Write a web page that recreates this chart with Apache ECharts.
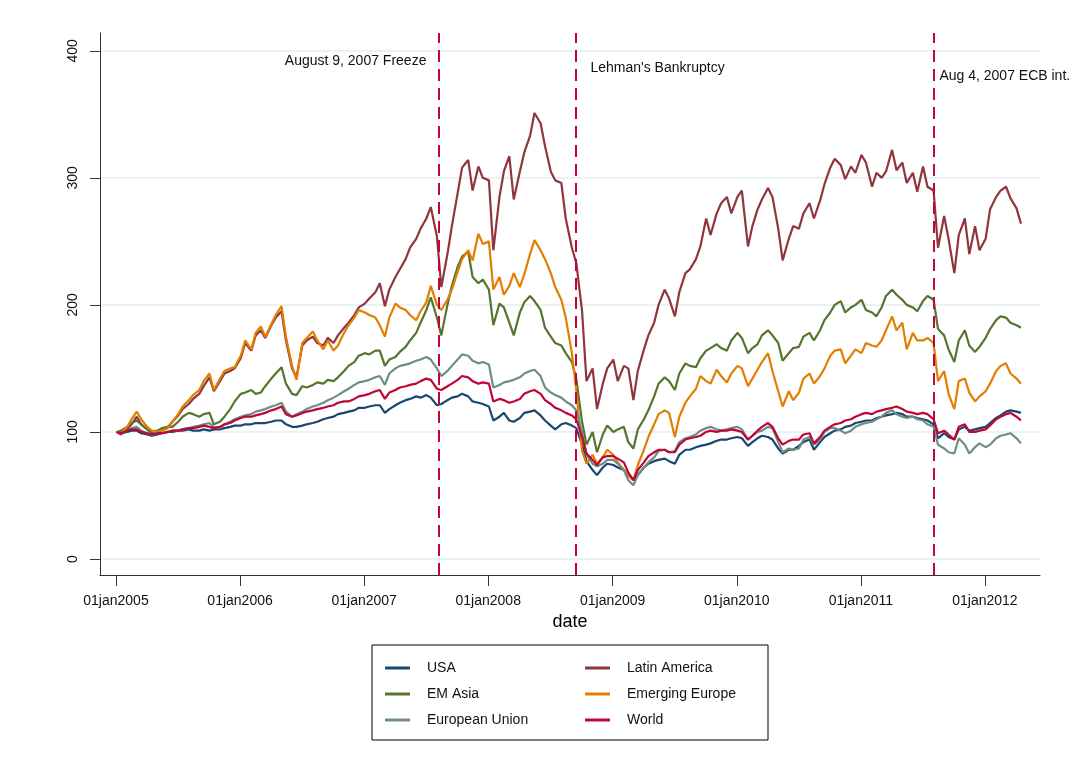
<!DOCTYPE html>
<html>
<head>
<meta charset="utf-8">
<script src="https://cdn.jsdelivr.net/npm/echarts@6/dist/echarts.min.js"></script>
<style>
html,body{margin:0;padding:0;background:#fff;}
#chart{width:1090px;height:768px;}
</style>
</head>
<body>
<div id="chart"></div>
<script>
// Semi-monthly observation dates (3rd and 16th of each month), Jan 2005 - Apr 2012
const startYear = 2005;
const nPoints = 176;

const seriesNames = ['USA', 'Latin America', 'EM Asia', 'Emerging Europe', 'European Union', 'World'];

const usa = [
  100,99,100,101,101,99,98,97,98,99,
  100,100,101,101,102,101,101,102,101,102,
  102,103,104,105,105,106,106,107,107,107,
  108,109,109,106,104,104,105,106,107,108,
  110,111,112,114,115,116,117,119,119,120,
  121,121,115,118,121,123,125,126,128,127,
  129,127,121,122,125,127,128,130,128,124,
  123,122,120,109,112,115,109,108,111,115,
  116,117,113,109,105,102,106,107,105,103,
  90,77,70,66,72,75,74,72,70,66,
  62,66,72,75,77,78,79,77,75,82,
  86,86,88,89,90,91,93,94,94,95,
  96,95,89,92,95,97,96,94,87,83,
  86,86,89,92,94,86,92,96,99,101,
  102,104,105,107,108,109,109,111,112,113,
  114,115,114,112,112,111,110,109,106,95,
  99,96,94,102,104,101,102,103,104,107,
  111,113,116,117,116,115
];

const latinAmerica = [
  100,98,102,106,112,106,102,99,100,101,
  104,108,113,118,122,126,130,136,143,132,
  140,146,148,150,158,170,164,176,180,174,
  184,190,195,172,150,143,168,172,175,170,
  168,174,170,176,182,186,192,198,201,205,
  210,217,199,212,222,228,236,245,252,260,
  268,277,254,214,240,262,288,308,314,290,
  309,300,298,243,285,305,317,283,305,320,
  333,351,343,325,305,298,296,268,245,233,
  195,140,150,118,138,150,157,140,152,150,
  125,148,165,176,186,200,212,205,191,210,
  225,228,236,246,268,255,272,280,285,272,
  285,290,246,262,275,283,292,285,260,235,
  252,262,260,272,280,268,282,295,308,315,
  310,299,309,304,318,312,293,304,300,305,
  322,306,312,296,304,289,309,293,290,245,
  270,252,225,255,268,240,262,243,252,275,
  285,290,293,284,276,264
];

const emAsia = [
  100,101,104,107,109,106,102,100,101,103,
  104,104,108,112,115,114,112,114,115,106,
  108,112,118,124,130,131,133,130,131,136,
  142,146,151,138,130,129,136,135,137,139,
  138,141,140,143,148,152,155,160,162,161,
  164,164,152,157,159,163,167,172,178,186,
  196,206,190,176,200,215,230,238,242,222,
  217,220,212,184,201,198,186,176,194,202,
  207,203,196,182,175,170,168,162,155,142,
  108,90,100,84,98,105,100,102,104,92,
  87,102,110,117,128,138,143,140,133,146,
  154,152,151,158,164,166,169,166,164,172,
  178,174,162,166,169,176,180,176,170,156,
  162,166,167,175,178,172,180,188,194,200,
  203,194,198,200,204,196,194,191,198,207,
  212,208,204,200,198,195,203,207,204,181,
  176,165,155,172,180,168,163,167,174,181,
  188,191,190,186,184,182
];

const emergingEurope = [
  100,99,104,110,116,110,104,101,100,101,
  103,108,114,120,125,129,133,140,146,133,
  142,148,150,151,160,172,165,178,183,175,
  185,192,199,175,152,141,170,174,179,172,
  165,172,164,168,178,184,190,196,194,192,
  190,184,175,190,201,198,196,192,188,195,
  202,215,200,196,204,212,226,236,243,235,
  256,248,250,212,222,208,215,225,214,224,
  240,251,243,236,225,214,204,190,162,133,
  85,75,82,75,80,86,82,76,70,66,
  62,74,86,96,106,114,117,115,96,112,
  123,128,134,144,140,138,149,144,139,146,
  152,150,136,142,149,155,162,148,132,120,
  132,125,131,142,146,138,144,150,160,164,
  165,154,160,165,162,170,168,167,172,180,
  191,180,186,165,178,172,172,174,170,140,
  148,130,118,140,142,131,124,128,132,138,
  148,152,154,146,142,138
];

const europeanUnion = [
  100,99,101,103,104,101,99,98,99,99,
  100,101,101,102,103,104,105,106,107,104,
  103,106,108,110,112,113,114,116,117,118,
  120,121,123,116,112,114,116,118,120,121,
  123,125,127,129,132,134,137,139,140,141,
  143,144,137,146,150,152,153,154,156,157,
  159,157,150,144,148,152,157,161,160,156,
  154,155,153,135,137,139,140,141,143,146,
  148,149,144,135,131,129,127,124,121,117,
  100,82,75,73,75,78,78,75,70,62,
  58,66,72,76,80,85,86,84,85,92,
  95,96,98,101,103,104,102,101,102,103,
  104,102,94,97,100,101,104,103,92,84,
  87,86,87,94,96,90,94,100,103,103,
  101,99,101,104,106,107,108,110,112,115,
  117,114,112,111,112,110,109,106,104,90,
  87,84,83,95,90,83,88,91,88,90,
  95,97,98,99,95,91
];

const world = [
  100,99,101,102,102,100,99,98,99,99,
  100,101,101,102,103,103,104,105,104,103,
  104,106,107,109,111,112,112,113,114,115,
  117,118,120,114,112,113,115,116,117,118,
  119,120,121,123,124,124,126,128,129,130,
  132,133,126,131,133,135,136,137,138,140,
  142,141,134,133,136,138,141,144,143,140,
  138,139,138,124,126,125,123,124,126,130,
  132,133,130,125,122,119,117,115,113,110,
  96,83,78,74,80,81,81,79,76,68,
  62,70,76,81,84,86,86,84,84,90,
  94,95,96,97,100,101,100,101,101,102,
  101,100,94,97,101,104,107,104,95,90,
  93,94,94,98,99,91,96,101,104,106,
  107,109,110,112,114,115,114,116,117,118,
  119,120,118,116,115,114,115,114,110,99,
  101,98,94,104,106,100,100,101,102,105,
  110,112,114,115,112,109
];

const yTicks = [0, 100, 200, 300, 400];
const xTickYears = [2005, 2006, 2007, 2008, 2009, 2010, 2011, 2012];

// event lines: [year, monthIndex, day, label, label y value, side]
const events = [
  [2007, 7, 9, 'August 9, 2007 Freeze', 392, 'left'],
  [2008, 8, 15, "Lehman's Bankruptcy", 386, 'right'],
  [2011, 7, 4, 'Aug 4, 2007 ECB int.', 380, 'right']
];

const colors = ['#1a476f', '#90353b', '#55752f', '#e37e00', '#6e8e84', '#c10534'];
const allValues = [usa, latinAmerica, emAsia, emergingEurope, europeanUnion, world];

// build date grid (timestamps)
const dates = [];
for (let k = 0; k < nPoints; k++) {
  const y = startYear + Math.floor(k / 24);
  const m = Math.floor((k % 24) / 2);
  const d = (k % 2) ? 16 : 3;
  dates.push(Date.UTC(y, m, d));
}

const FONT = '"Liberation Sans", Arial, Helvetica, sans-serif';

const series = seriesNames.map((name, i) => ({
  name: name,
  type: 'line',
  data: dates.map((t, k) => [t, allValues[i][k]]),
  showSymbol: false,
  symbol: 'none',
  lineStyle: { width: 2.2, color: colors[i] },
  itemStyle: { color: colors[i] },
  animation: false,
  clip: true
}));

series[5].markLine = {
  silent: true,
  symbol: ['none', 'none'],
  animation: false,
  label: { show: false },
  lineStyle: { color: '#c10534', type: [12, 7], width: 2 },
  data: events.map(e => ({ xAxis: Date.UTC(e[0], e[1], e[2]) }))
};
series[5].markPoint = {
  silent: true,
  animation: false,
  symbol: 'circle',
  symbolSize: 1,
  itemStyle: { color: 'rgba(0,0,0,0)' },
  data: events.map(e => ({
    coord: [Date.UTC(e[0], e[1], e[2]), e[4]],
    label: {
      show: true,
      formatter: e[3],
      position: e[5],
      distance: e[5] === 'left' ? 12 : (e[0] === 2011 ? 5 : 14),
      color: '#111',
      fontSize: 14,
      fontFamily: FONT
    }
  }))
};

const col2 = ['Latin America', 'Emerging Europe', 'World'];

const option = {
  backgroundColor: '#fff',
  animation: false,
  color: colors,
  grid: { left: 100, right: 50, top: 33, bottom: 193, containLabel: false },
  xAxis: {
    type: 'value',
    min: Date.UTC(2004, 10, 15),
    max: Date.UTC(2012, 5, 11),
    name: 'date',
    nameLocation: 'middle',
    nameGap: 38,
    nameTextStyle: { fontSize: 18, color: '#000', fontFamily: FONT },
    axisLine: { show: true, onZero: false, lineStyle: { color: '#333', width: 1 } },
    axisTick: { show: true, length: 11, lineStyle: { color: '#333' },
      customValues: xTickYears.map(y => Date.UTC(y, 0, 1)) },
    axisLabel: {
      customValues: xTickYears.map(y => Date.UTC(y, 0, 1)),
      formatter: v => '01jan' + new Date(v).getUTCFullYear(),
      fontSize: 14, color: '#111', fontFamily: FONT, margin: 19
    },
    splitLine: { show: false }
  },
  yAxis: {
    type: 'value',
    min: -12.6,
    max: 414,
    axisLine: { show: true, onZero: false, lineStyle: { color: '#333', width: 1 } },
    axisTick: { show: true, length: 10, lineStyle: { color: '#333' }, customValues: yTicks },
    axisLabel: {
      customValues: yTicks,
      rotate: 90,
      fontSize: 14, color: '#111', fontFamily: FONT, margin: 20
    },
    splitLine: { show: true, lineStyle: { color: '#eaf2f3', width: 2 } }
  },
  legend: {
    data: seriesNames,
    left: 372,
    top: 645,
    width: 375,
    orient: 'horizontal',
    padding: [10, 13, 7, 13],
    itemGap: 0,
    itemWidth: 25,
    itemHeight: 3,
    icon: 'rect',
    borderColor: '#000',
    borderWidth: 1,
    backgroundColor: '#fff',
    selectedMode: false,
    formatter: name => (col2.indexOf(name) >= 0 ? '{b|' + name + '}' : '{a|' + name + '}'),
    textStyle: {
      fontSize: 14, color: '#111', fontFamily: FONT, lineHeight: 26,
      rich: {
        a: { width: 158, height: 14, padding: [6, 0, 6, 12], lineHeight: 14, fontSize: 14, color: '#111', fontFamily: FONT },
        b: { width: 128, height: 14, padding: [6, 0, 6, 12], lineHeight: 14, fontSize: 14, color: '#111', fontFamily: FONT }
      }
    }
  },
  series: series
};

const chart = echarts.init(document.getElementById('chart'), null, { renderer: 'canvas' });
chart.setOption(option);
</script>
</body>
</html>
